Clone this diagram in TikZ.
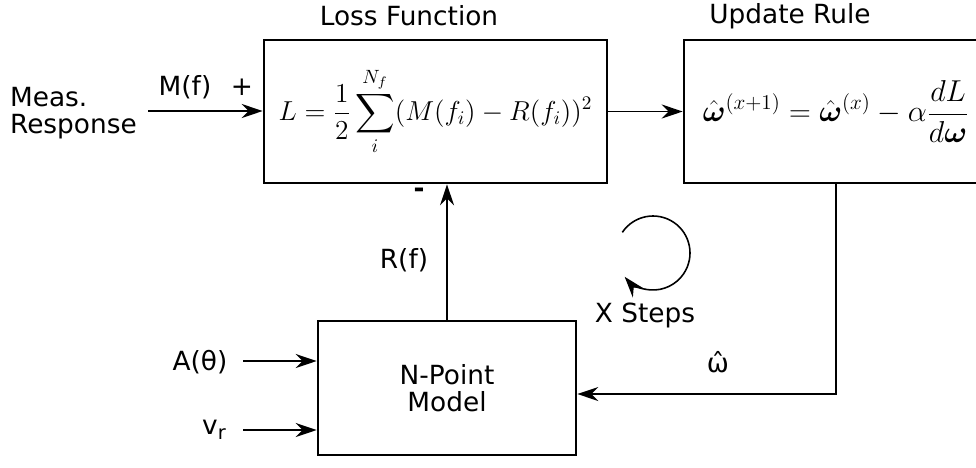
\RequirePackage{fix-cm}
\documentclass[tikz,border=0pt]{standalone}
\usepackage{amsmath,amssymb,bm}
\usepackage[no-math]{fontspec}
\setmainfont{DejaVu Sans}
\usepackage{tikz}
\usetikzlibrary{arrows.meta, positioning, calc}

\tikzset{
  block/.style={draw, line width=1.5pt, inner sep=0pt, align=center},
  lbl/.style={font=\fontsize{15}{15}\selectfont, inner sep=1pt},
  eqn/.style={font=\fontsize{#1}{18}\selectfont},
  arr/.style={-{Stealth[length=12pt, width=8pt, inset=4pt]}, line width=0.9pt},
}

\begin{document}
\begin{tikzpicture}[x=0.02cm, y=-0.02cm]
  \useasboundingbox (0,0) rectangle (976,467);

  % blocks
  \node[block, eqn=15.6, minimum width=6.86cm, minimum height=2.86cm] (loss) at (435.5,111.5)
    {\raisebox{-3pt}{$\displaystyle L=\frac{1}{2}\sum_{i}^{N_f}(M(f_i)-R(f_i))^2$}};
  \node[block, eqn=17.2, minimum width=6.08cm, minimum height=2.86cm] (update) at (836,111.5)
    {$\displaystyle \hat{\bm{\omega}}^{(x+1)}=\hat{\bm{\omega}}^{(x)}-\alpha\frac{dL}{d\bm{\omega}}$};
  \node[block, lbl, minimum width=5.16cm, minimum height=2.68cm] (npoint) at (447,388)
    {N-Point\\Model};

  % titles and labels
  \node[lbl] (lossttl) at (409,16) {Loss Function};
  \node[lbl] (updttl) at (790,16) {Update Rule};
  \node[lbl, anchor=west, align=left] (meas) at (8,113) {Meas.\\Response};
  \node[lbl] (mf) at (185,87) {M(f)};
  \node[lbl] (plus) at (242,87) {+};
  \node[lbl, font=\fontsize{15}{15}\selectfont\bfseries] (minus) at (419,193) {-};
  \node[lbl] (rf) at (404,260) {R(f)};
  \node[lbl] (steps) at (645,315) {X Steps};
  \node[lbl] (what) at (718,362) {ω̂};
  \node[lbl] (ath) at (200,362) {A(θ)};
  \node[lbl] (vr) at (214,430) {v\raisebox{-0.35ex}{\fontsize{11}{11}\selectfont r}};

  % arrow ends
  \coordinate (measin) at (148,111);
  \coordinate (ain) at (243,361);
  \coordinate (vin) at (243,430);
  \coordinate (loopc) at (653,253);

  % connectors
  \draw[arr] (measin) -- (measin -| loss.west);
  \draw[arr] (loss.east) -- (update.west);
  \draw[arr] (npoint.north) -- (npoint.north |- loss.south);
  \draw[arr] (update.south) |- ([yshift=-0.12cm]npoint.east);
  \draw[arr] (ain) -- (ain -| npoint.west);
  \draw[arr] (vin) -- (vin -| npoint.west);

  % iteration loop
  \draw[arr] ($(loopc)+(214:37)$) arc[start angle=214, end angle=500, radius=37];
\end{tikzpicture}
\end{document}
